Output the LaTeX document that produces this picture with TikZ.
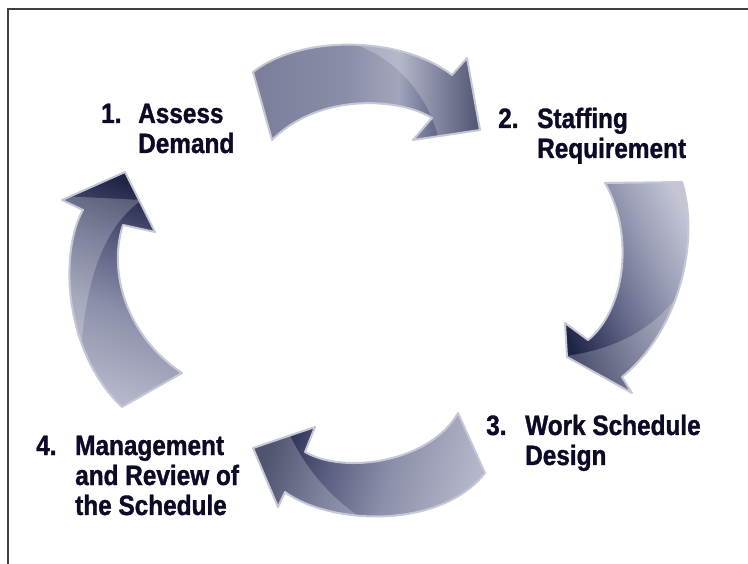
\documentclass[tikz,border=0pt]{standalone}
\usepackage{fontspec}
\setmainfont{Liberation Sans}[FakeStretch=0.87, BoldFeatures={FakeBold=1.2}]
\definecolor{acRim}{HTML}{C6C8D8}
\definecolor{txt}{HTML}{0B0B28}
\definecolor{aa}{HTML}{7A7E9A}
\definecolor{ab}{HTML}{8A8DA7}
\definecolor{ac}{HTML}{A2A5BB}
\definecolor{ad}{HTML}{5E6284}
\definecolor{ae}{HTML}{1F2547}
\definecolor{ba}{HTML}{C4C6D6}
\definecolor{bb}{HTML}{9A9DB5}
\definecolor{bc}{HTML}{6A6E8E}
\definecolor{bd}{HTML}{3A3F62}
\definecolor{ca}{HTML}{B4B6CA}
\definecolor{cb}{HTML}{8C8FA9}
\definecolor{cc}{HTML}{5A5E80}
\pgfdeclarehorizontalshading{shadeone}{100bp}{color(0bp)=(aa); color(25bp)=(aa); color(45bp)=(ab); color(57bp)=(ac); color(66bp)=(ad); color(75bp)=(ae); color(100bp)=(ae)}
\pgfdeclarehorizontalshading{shadetwo}{100bp}{color(0bp)=(ba); color(25bp)=(ba); color(40bp)=(bb); color(55bp)=(bc); color(68bp)=(bd); color(75bp)=(ae); color(100bp)=(ae)}
\pgfdeclarehorizontalshading{shadethree}{100bp}{color(0bp)=(ca); color(25bp)=(ca); color(45bp)=(cb); color(60bp)=(cc); color(75bp)=(ae); color(100bp)=(ae)}
\def\arrA{(253,72) .. controls (300,35) and (400,35) .. (452,75)
  -- (467,58) -- (480,130) -- (413,140) -- (432,118)
  .. controls (400,98) and (320,92) .. (272,140) -- cycle}
\def\arrB{(682,182) .. controls (700,240) and (680,330) .. (622,377)
  -- (632,393) -- (567,357) -- (565,323) -- (588,340)
  .. controls (625,310) and (635,235) .. (605,183) -- cycle}
\def\arrC{(458,413) .. controls (430,462) and (345,475) .. (305,452)
  -- (315,427) -- (253,448) -- (278,507) -- (285,492)
  .. controls (330,525) and (440,530) .. (485,473) -- cycle}
\def\arrD{(182,373) .. controls (125,335) and (108,270) .. (123,225)
  -- (155,232) -- (125,172) -- (62,200) -- (83,210)
  .. controls (60,250) and (62,350) .. (122,407) -- cycle}
\tikzset{
  rim/.style={draw=acRim, line width=2pt, line join=round},
  gloss/.style={fill=white, fill opacity=0.22},
  lbl/.style={anchor=base west, inner sep=0pt, text=txt, font=\fontsize{28}{30}\selectfont\bfseries},
}
\begin{document}
\begin{tikzpicture}[x=1pt,y=-1pt]
\useasboundingbox (0,0) rectangle (748,564);
\fill[white] (0,0) rectangle (748,564);
\draw[color=black!75, line width=2pt] (7.5,564) -- (7.5,9.5) -- (748,9.5);
% arrow 1 (top)
\path[shading=shadeone, shading angle=0] \arrA;
\begin{scope}
  \clip \arrA;
  \path[gloss] (340,30) -- (345,41) .. controls (395,55) and (430,95) .. (440,145) -- (495,145) -- (495,30) -- cycle;
\end{scope}
\path[rim] \arrA;
% arrow 2 (right)
\path[shading=shadetwo, shading angle=205] \arrB;
\begin{scope}
  \clip \arrB;
  \path[gloss] (700,255) .. controls (675,320) and (625,348) .. (566,356) -- (640,405) -- (705,405) -- cycle;
\end{scope}
\path[rim] \arrB;
% arrow 3 (bottom)
\path[shading=shadethree, shading angle=165] \arrC;
\begin{scope}
  \clip \arrC;
  \path[gloss] (285,424) .. controls (300,462) and (330,500) .. (368,522) -- (240,530) -- (240,424) -- cycle;
\end{scope}
\path[rim] \arrC;
% arrow 4 (left)
\path[shading=shadethree, shading angle=70] \arrD;
\begin{scope}
  \clip \arrD;
  \path[gloss] (142,200) .. controls (100,228) and (74,300) .. (82,420) -- (40,420) -- (40,195) -- cycle;
\end{scope}
\path[rim] \arrD;
% labels
\node[lbl] (n1) at (101,123) {1.};
\node[lbl] (t1) at (138,123) {\begin{tabular}[t]{@{}l@{}}Assess\\Demand\end{tabular}};
\node[lbl] (n2) at (498,128) {2.};
\node[lbl] (t2) at (537,128) {\begin{tabular}[t]{@{}l@{}}Staffing\\Requirement\end{tabular}};
\node[lbl] (n3) at (486,435) {3.};
\node[lbl] (t3) at (525,435) {\begin{tabular}[t]{@{}l@{}}Work Schedule\\Design\end{tabular}};
\node[lbl] (n4) at (36,455) {4.};
\node[lbl] (t4) at (75,455) {\begin{tabular}[t]{@{}l@{}}Management\\and Review of\\the Schedule\end{tabular}};
\end{tikzpicture}
\end{document}
